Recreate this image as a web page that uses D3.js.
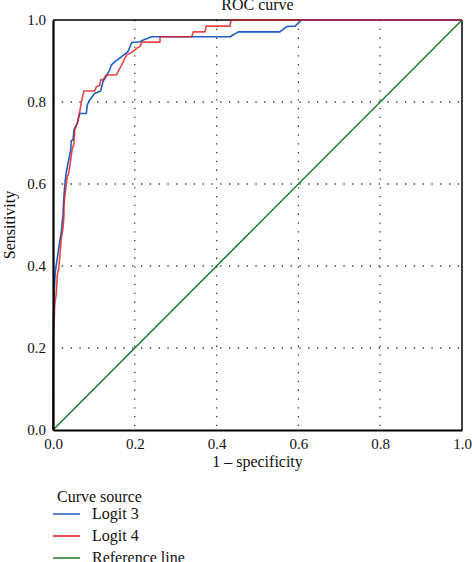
<!DOCTYPE html>
<html>
<head>
<meta charset="utf-8">
<script src="https://cdn.jsdelivr.net/npm/d3@7"></script>
<style>
html,body{margin:0;padding:0;background:#fff;}
svg{display:block;}
text{font-family:"Liberation Serif","Times New Roman",serif;fill:#111;}
</style>
</head>
<body>
<script>
// ---- data ----
const tickValues = [0, 0.2, 0.4, 0.6, 0.8, 1.0];
const gridValues = [0.2, 0.4, 0.6, 0.8];
const seriesNames = ["Logit 3", "Logit 4", "Reference line"];

const logit3X = [0,0,0.0007,0.0024,0.0042,0.0056,0.0105,0.0164,0.0203,0.0244,0.0269,0.0301,0.0325,0.0367,0.0433,0.0447,0.0489,0.0513,0.0594,0.0653,0.0814,0.0839,0.0897,0.102,0.1166,0.1222,0.1303,0.1386,0.1425,0.1509,0.1631,0.1834,0.1924,0.2127,0.2208,0.2413,0.4279,0.4328,0.4531,0.555,0.5714,0.5917,0.608,1];
const logit3Y = [0,0.073,0.256,0.313,0.362,0.386,0.419,0.459,0.484,0.524,0.573,0.610,0.628,0.650,0.683,0.706,0.707,0.732,0.748,0.772,0.772,0.793,0.805,0.821,0.827,0.850,0.863,0.878,0.890,0.898,0.907,0.923,0.945,0.947,0.951,0.959,0.959,0.959,0.971,0.971,0.984,0.985,1,1];

const logit4X = [0,0,0.0012,0.0024,0.0042,0.0081,0.0105,0.0139,0.0164,0.0203,0.0244,0.0269,0.0269,0.0286,0.0325,0.035,0.0384,0.0433,0.0465,0.0513,0.0531,0.0594,0.0628,0.0653,0.0692,0.0758,0.102,0.1059,0.1142,0.1166,0.1222,0.1303,0.1548,0.1631,0.1687,0.1753,0.1802,0.1924,0.2046,0.2127,0.2169,0.2616,0.2616,0.3391,0.343,0.3716,0.3741,0.4328,0.4352,1];
const logit4Y = [0,0.098,0.207,0.256,0.305,0.333,0.378,0.394,0.419,0.468,0.492,0.524,0.545,0.569,0.598,0.618,0.626,0.659,0.683,0.699,0.732,0.748,0.764,0.776,0.799,0.827,0.827,0.837,0.840,0.854,0.854,0.866,0.866,0.882,0.892,0.905,0.915,0.921,0.931,0.935,0.946,0.946,0.959,0.959,0.971,0.971,0.985,0.985,1,1];

const refX = [0, 1];
const refY = [0, 1];

const colors = {"Logit 3":"#1f5fc0","Logit 4":"#e3161c","Reference line":"#1f7a2a"};

// ---- layout ----
const W = 472, H = 562;
const pLeft = 53, pRight = 462, pTop = 20, pBottom = 430;

const svg = d3.select("body").append("svg").attr("width", W).attr("height", H);

const x = d3.scaleLinear().domain([0,1]).range([pLeft, pRight]);
const y = d3.scaleLinear().domain([0,1]).range([pBottom, pTop]);

// grid
const grid = svg.append("g");
grid.selectAll("line.v").data(gridValues).enter().append("line")
  .attr("x1", d=>x(d)).attr("x2", d=>x(d)).attr("y1", pTop).attr("y2", pBottom)
  .attr("stroke", "#333").attr("stroke-width", 1.3).attr("stroke-dasharray", "1.3,7.5");
grid.selectAll("line.h").data(gridValues).enter().append("line")
  .attr("y1", d=>y(d)).attr("y2", d=>y(d)).attr("x1", pLeft).attr("x2", pRight)
  .attr("stroke", "#333").attr("stroke-width", 1.3).attr("stroke-dasharray", "1.3,7.5");

// frame (top/right)
svg.append("line").attr("x1", pLeft).attr("x2", pRight).attr("y1", pTop).attr("y2", pTop)
  .attr("stroke", "#000").attr("stroke-width", 1.5);
svg.append("line").attr("x1", pRight).attr("x2", pRight).attr("y1", pTop).attr("y2", pBottom)
  .attr("stroke", "#000").attr("stroke-width", 1.5);

// lines
const line = d3.line().x(d=>x(d[0])).y(d=>y(d[1]));
function pts(xs, ys){ return xs.map((v,i)=>[v, ys[i]]); }

svg.append("path").datum(pts(refX, refY)).attr("d", line)
  .attr("fill","none").attr("stroke", colors["Reference line"]).attr("stroke-width", 1.5);
svg.append("path").datum(pts(logit3X, logit3Y)).attr("d", line)
  .attr("fill","none").attr("stroke", colors["Logit 3"]).attr("stroke-width", 1.6)
  .attr("stroke-linejoin","round");
svg.append("path").datum(pts(logit4X, logit4Y)).attr("d", line)
  .attr("fill","none").attr("stroke", colors["Logit 4"]).attr("stroke-width", 1.6)
  .attr("stroke-opacity", 0.8).attr("stroke-linejoin","round");

// axes
const xAxis = d3.axisBottom(x).tickValues(tickValues).tickFormat(d3.format(".1f")).tickSize(0).tickPadding(8);
const yAxis = d3.axisLeft(y).tickValues(tickValues).tickFormat(d3.format(".1f")).tickSize(0).tickPadding(7);

const gx = svg.append("g").attr("transform", `translate(0,${pBottom})`).call(xAxis);
const gy = svg.append("g").attr("transform", `translate(${pLeft},0)`).call(yAxis);
[gx, gy].forEach(g=>{
  g.select(".domain").attr("stroke","#000").attr("stroke-width",2.2);
  g.selectAll("text").style("font-family","Liberation Serif, serif").style("font-size","15px").attr("fill","#111");
});

// titles
svg.append("text").attr("x", (pLeft+pRight)/2).attr("y", 10).attr("text-anchor","middle")
  .style("font-size","16px").text("ROC curve");
svg.append("text").attr("x", (pLeft+pRight)/2).attr("y", 467).attr("text-anchor","middle")
  .style("font-size","16px").text("1 – specificity");
svg.append("text").attr("transform", `translate(15,${(pTop+pBottom)/2}) rotate(-90)`).attr("text-anchor","middle")
  .style("font-size","16px").text("Sensitivity");

// legend
const lg = svg.append("g");
lg.append("text").attr("x", 57).attr("y", 502).style("font-size","16px").text("Curve source");
const items = lg.selectAll("g.item").data(seriesNames).enter().append("g")
  .attr("transform", (d,i)=>`translate(0,${514 + i*22})`);
items.append("line").attr("x1", 53).attr("x2", 80).attr("y1", 0).attr("y2", 0)
  .attr("stroke", d=>colors[d]).attr("stroke-width", 1.5);
items.append("text").attr("x", 92).attr("y", 5).style("font-size","16px").text(d=>d);
</script>
</body>
</html>
